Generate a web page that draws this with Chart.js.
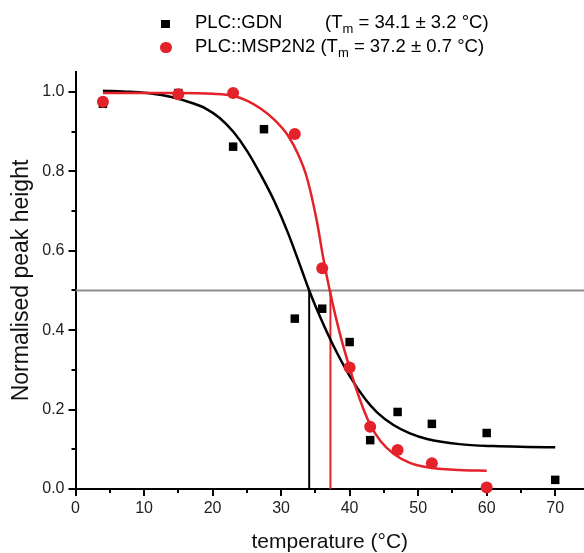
<!DOCTYPE html>
<html>
<head>
<meta charset="utf-8">
<script src="https://cdn.jsdelivr.net/npm/chart.js@4.4.1/dist/chart.umd.min.js"></script>
<style>
    html, body { margin: 0; padding: 0; background: #ffffff; }
    .wrap { position: relative; width: 584px; height: 553px; font-family: "Liberation Sans", Arial, sans-serif; color: #000; }
    #meltChart { position: absolute; left: 0; top: 0; }
    .leg { position: absolute; font-size: 18.5px; line-height: 18.5px; white-space: nowrap; }
    .leg sub { font-size: 13px; vertical-align: -5px; line-height: 0; }
    .mark { position: absolute; }
</style>
</head>
<body>
<div class="wrap">
    <canvas id="meltChart" width="584" height="553"></canvas>
    <div class="mark" style="left:161px; top:19.5px; width:8.5px; height:8.5px; background:#000;"></div>
    <div class="leg" style="left:195px; top:12.6px;">PLC::GDN</div>
    <div class="leg" style="left:325px; top:12.6px;">(T<sub>m</sub> = 34.1 ± 3.2 °C)</div>
    <div class="mark" style="left:160px; top:41.5px; width:11.5px; height:11.5px; border-radius:50%; background:#e4222a;"></div>
    <div class="leg" style="left:195px; top:36.6px;">PLC::MSP2N2 (T<sub>m</sub> = 37.2 ± 0.7 °C)</div>
</div>

<script>
// Dados medidos
const gdnTemp = [4, 15, 23, 27.5, 32, 36, 40, 43, 47, 52, 60, 70];
const gdnHeight = [0.970, 0.997, 0.862, 0.906, 0.429, 0.454, 0.370, 0.123, 0.194, 0.164, 0.141, 0.023];
const mspTemp = [4, 15, 23, 32, 36, 40, 43, 47, 52, 60];
const mspHeight = [0.975, 0.994, 0.997, 0.894, 0.556, 0.306, 0.157, 0.098, 0.065, 0.004];

// Curvas ajustadas
const gdnFitTemp = [4, 8, 11, 14, 17, 19, 21, 23, 25, 27, 29, 31, 33, 34.1, 35.7, 37.6, 40, 42.3, 44, 46.4, 48.8, 51.3, 56, 61, 66, 70];
const gdnFitHeight = [1.003, 1.000, 0.996, 0.987, 0.972, 0.958, 0.935, 0.900, 0.852, 0.792, 0.725, 0.645, 0.552, 0.500, 0.433, 0.362, 0.285, 0.226, 0.193, 0.161, 0.140, 0.126, 0.113, 0.108, 0.106, 0.105];
const mspFitTemp = [4, 10, 15, 20, 23, 25, 27, 29, 31, 32.5, 33.75, 35.2, 36.2, 37.1, 38.6, 40, 41, 42, 43, 44.5, 46.4, 48.8, 51.3, 56, 60];
const mspFitHeight = [0.997, 0.997, 0.997, 0.995, 0.990, 0.978, 0.958, 0.930, 0.890, 0.842, 0.785, 0.676, 0.577, 0.500, 0.390, 0.305, 0.250, 0.202, 0.162, 0.121, 0.089, 0.066, 0.055, 0.048, 0.046];

// Tm e linha de referência
const tmValues = [34.1, 37.2];
const halfLevel = 0.5;

// Eixos
const xTickValues = [0, 10, 20, 30, 40, 50, 60, 70];
const xMinorTicks = [5, 15, 25, 35, 45, 55, 65];
const yTickValues = [0, 0.2, 0.4, 0.6, 0.8, 1.0];
const yMinorTicks = [0.1, 0.3, 0.5, 0.7, 0.9];
const xRange = [0, 74.2];
const yRange = [0, 1.05];

const RED = '#e4222a';

function toPoints(xs, ys) {
    return xs.map((x, i) => ({ x: x, y: ys[i] }));
}

// Marcas menores dos eixos
const minorTicksPlugin = {
    id: 'minorTicks',
    afterDraw(chart) {
        const ctx = chart.ctx;
        const xs = chart.scales.x;
        const ys = chart.scales.y;
        const area = chart.chartArea;
        ctx.save();
        ctx.strokeStyle = '#000';
        ctx.lineWidth = 2;
        ctx.beginPath();
        xMinorTicks.forEach(v => {
            const px = Math.round(xs.getPixelForValue(v));
            ctx.moveTo(px, area.bottom);
            ctx.lineTo(px, area.bottom + 4);
        });
        yMinorTicks.forEach(v => {
            const py = Math.round(ys.getPixelForValue(v));
            ctx.moveTo(area.left, py);
            ctx.lineTo(area.left - 4, py);
        });
        ctx.stroke();
        ctx.restore();
    }
};

function setupChart() {
    const ctx = document.getElementById('meltChart').getContext('2d');
    const tickFont = { family: '"Liberation Sans", Arial, sans-serif', size: 16 };

    new Chart(ctx, {
        type: 'scatter',
        data: {
            datasets: [
                {
                    label: 'PLC::MSP2N2',
                    data: toPoints(mspTemp, mspHeight),
                    backgroundColor: RED,
                    borderColor: RED,
                    borderWidth: 0,
                    pointStyle: 'circle',
                    pointRadius: 6,
                    clip: false,
                    order: 0
                },
                {
                    label: 'PLC::GDN',
                    data: toPoints(gdnTemp, gdnHeight),
                    backgroundColor: '#000',
                    borderColor: '#000',
                    borderWidth: 0,
                    pointStyle: 'rect',
                    pointRadius: 6,
                    clip: false,
                    order: 1
                },
                {
                    type: 'line',
                    label: 'MSP2N2 fit',
                    data: toPoints(mspFitTemp, mspFitHeight),
                    borderColor: RED,
                    borderWidth: 2.5,
                    pointRadius: 0,
                    cubicInterpolationMode: 'monotone',
                    fill: false,
                    order: 2
                },
                {
                    type: 'line',
                    label: 'GDN fit',
                    data: toPoints(gdnFitTemp, gdnFitHeight),
                    borderColor: '#000',
                    borderWidth: 2.5,
                    pointRadius: 0,
                    cubicInterpolationMode: 'monotone',
                    fill: false,
                    order: 3
                },
                {
                    type: 'line',
                    label: 'Tm GDN',
                    data: [{ x: tmValues[0], y: 0 }, { x: tmValues[0], y: halfLevel }],
                    borderColor: '#000',
                    borderWidth: 2,
                    pointRadius: 0,
                    order: 4
                },
                {
                    type: 'line',
                    label: 'Tm MSP2N2',
                    data: [{ x: tmValues[1], y: 0 }, { x: tmValues[1], y: halfLevel }],
                    borderColor: RED,
                    borderWidth: 2,
                    pointRadius: 0,
                    order: 4
                },
                {
                    type: 'line',
                    label: 'half',
                    data: [{ x: xRange[0], y: halfLevel }, { x: xRange[1], y: halfLevel }],
                    borderColor: '#8c8c8c',
                    borderWidth: 2,
                    pointRadius: 0,
                    order: 5
                }
            ]
        },
        options: {
            responsive: false,
            devicePixelRatio: 1,
            animation: false,
            layout: {
                autoPadding: false,
                padding: { top: 72, right: 0, left: 0, bottom: 0 }
            },
            plugins: {
                legend: { display: false },
                tooltip: { enabled: false }
            },
            scales: {
                x: {
                    type: 'linear',
                    min: xRange[0],
                    max: xRange[1],
                    afterBuildTicks: scale => { scale.ticks = xTickValues.map(v => ({ value: v })); },
                    afterFit: scale => {
                        scale.height = 64;
                        scale.paddingLeft = 0;
                        scale.paddingRight = 0;
                    },
                    border: { color: '#000', width: 2 },
                    grid: { drawOnChartArea: false, drawTicks: true, tickLength: 7, color: '#000', lineWidth: 2 },
                    ticks: {
                        color: '#222',
                        font: tickFont,
                        padding: 3,
                        maxRotation: 0,
                        callback: v => String(v)
                    },
                    title: {
                        display: true,
                        text: 'temperature (°C)',
                        color: '#111',
                        font: { family: '"Liberation Sans", Arial, sans-serif', size: 21, lineHeight: 1 },
                        padding: { top: 0, bottom: 0 }
                    }
                },
                y: {
                    type: 'linear',
                    min: yRange[0],
                    max: yRange[1],
                    afterBuildTicks: scale => { scale.ticks = yTickValues.map(v => ({ value: v })); },
                    afterFit: scale => {
                        scale.width = 75.5;
                        scale.paddingTop = 0;
                        scale.paddingBottom = 0;
                    },
                    border: { color: '#000', width: 2 },
                    grid: { drawOnChartArea: false, drawTicks: true, tickLength: 7, color: '#000', lineWidth: 2 },
                    ticks: {
                        color: '#222',
                        font: tickFont,
                        padding: 4,
                        callback: v => v.toFixed(1)
                    },
                    title: {
                        display: true,
                        text: 'Normalised peak height',
                        color: '#111',
                        font: { family: '"Liberation Sans", Arial, sans-serif', size: 23, lineHeight: 1 },
                        padding: { top: 10, bottom: 0 }
                    }
                }
            }
        },
        plugins: [minorTicksPlugin]
    });
}

document.addEventListener('DOMContentLoaded', function() {
    setupChart();
});
</script>
</body>
</html>
